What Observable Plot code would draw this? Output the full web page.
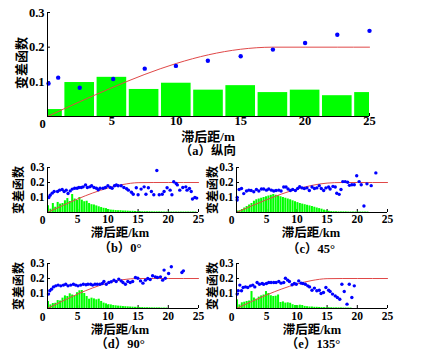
<!DOCTYPE html>
<html><head><meta charset="utf-8">
<script src="https://cdn.jsdelivr.net/npm/d3@7"></script>
<script src="https://cdn.jsdelivr.net/npm/@observablehq/plot@0.6"></script>
<style>
body{margin:0;background:#fff;}
#root{position:relative;width:428px;height:354px;background:#fff;overflow:hidden;}
.pane{position:absolute;}
.lbl{position:absolute;white-space:nowrap;color:#000;font-family:'Liberation Serif','Noto Sans CJK SC',serif;font-weight:bold;transform:translate(-50%,-50%);line-height:1;}
.ylbl{transform:translate(-50%,-50%) rotate(-90deg);}
</style></head>
<body><div id="root"></div>
<script>
// ---------- data ----------
const xTicks = [0, 5, 10, 15, 20, 25];
const yTicks = [0.1, 0.2, 0.3];
const curveLag = [0, 2.5, 5, 7.5, 10, 12.5, 15, 17.5, 20, 22.5, 25];

// (a) 纵向
const barLagA = [0, 2.5, 5, 7.5, 10, 12.5, 15, 17.5, 20, 22.5, 25];
const barA = [0.02, 0.098, 0.113, 0.078, 0.096, 0.076, 0.089, 0.069, 0.076, 0.060, 0.069];
const dotLagA = [0.08, 0.83, 2.5, 5.1, 7.55, 9.97, 12.45, 15.0, 17.5, 20.0, 22.5, 25.0];
const dotA = [0.095, 0.112, 0.083, 0.108, 0.138, 0.146, 0.161, 0.174, 0.193, 0.212, 0.236, 0.247];
const curveA = [0, 0.0426, 0.083, 0.1207, 0.153, 0.178, 0.194, 0.2, 0.2, 0.2, 0.2];

// bin width of the small histograms (km)
const binWidthKm = 0.4;

// (b) 0°
const barB = [0.045,0.022,0.06,0.035,0.067,0.056,0.06,0.078,0.093,0.073,0.12,0.09,0.08,0.10,0.082,0.072,0.075,0.06,0.052,0.05,0.044,0.038,0.033,0.028,0.026,0.02,0.016,0.015,0.013,0.012,0.012,0.01,0.01,0.009,0.008,0.008,0.007,0.006,0.006,0.005,0.005,0.005,0.005,0.004,0.004,0.004,0.004,0.004,0.003,0.003,0.003,0.003,0.003,0.003,0.003,0.003,0.003,0.003,0.003,0.003,0.003,0.003];
const dotLagB = [0.22,0.44,0.77,1.1,1.66,2.0,2.43,2.76,3.1,3.4,3.76,4.1,4.5,4.9,5.2,5.6,5.9,6.3,6.6,7.0,7.3,7.7,8.1,8.4,8.7,9.2,9.6,10.0,10.4,10.7,11.1,11.4,11.7,12.2,12.65,13.1,13.4,13.9,14.2,14.7,15.0,15.5,16.0,16.3,16.7,17.2,17.6,18.1,18.5,19.0,19.3,19.8,20.3,20.6,20.9,21.3,21.5,21.9,22.4,22.9,23.1,23.5,23.8,24.0,24.4,24.7];
const dotB = [0.10,0.115,0.129,0.14,0.14,0.149,0.153,0.14,0.149,0.127,0.144,0.156,0.162,0.162,0.167,0.167,0.171,0.184,0.167,0.171,0.178,0.167,0.162,0.151,0.162,0.162,0.167,0.178,0.167,0.162,0.178,0.184,0.178,0.178,0.167,0.158,0.149,0.135,0.122,0.165,0.118,0.156,0.171,0.122,0.165,0.14,0.118,0.28,0.118,0.122,0.14,0.165,0.149,0.118,0.205,0.193,0.184,0.149,0.167,0.171,0.149,0.16,0.14,0.09,0.1,0.096];
const curveB = [0, 0.0465, 0.0906, 0.1303, 0.163, 0.1867, 0.1989, 0.2, 0.2, 0.2, 0.2];

// (c) 45°
const barC = [0.01,0.012,0.02,0.03,0.04,0.05,0.06,0.075,0.085,0.09,0.095,0.1,0.105,0.11,0.115,0.12,0.115,0.112,0.105,0.1,0.095,0.09,0.085,0.078,0.072,0.066,0.06,0.056,0.052,0.048,0.044,0.04,0.035,0.03,0.026,0.022,0.016,0.012,0.008,0.006,0.005,0.005,0.004,0.004,0.004,0.004,0.003,0.003,0.003,0.003,0.003,0.003,0.003,0.003,0.003];
const dotLagC = [0.11,0.11,0.44,0.83,1.2,1.65,2.04,2.42,2.86,3.3,3.7,4.13,4.5,4.96,5.34,5.78,6.17,6.55,7.0,7.38,7.82,8.2,8.54,8.92,9.3,9.75,10.13,10.46,10.85,11.23,11.67,12.06,12.5,12.9,13.3,13.7,14.04,14.43,14.8,15.25,15.5,15.97,16.35,16.6,17.0,17.3,17.6,18.0,18.4,18.7,19.1,19.5,19.9,20.3,20.65,21.1,21.6,22.3,23.07];
const dotC = [0.10,0.083,0.153,0.16,0.126,0.143,0.149,0.147,0.138,0.153,0.143,0.157,0.157,0.149,0.157,0.149,0.143,0.147,0.149,0.143,0.17,0.17,0.157,0.147,0.153,0.147,0.16,0.172,0.164,0.16,0.164,0.147,0.17,0.16,0.164,0.179,0.16,0.147,0.164,0.17,0.157,0.174,0.17,0.128,0.121,0.153,0.206,0.206,0.202,0.181,0.185,0.185,0.245,0.206,0.185,0.043,0.191,0.179,0.264];
const curveC = [0, 0.0438, 0.0856, 0.1237, 0.156, 0.1808, 0.196, 0.2, 0.2, 0.2, 0.2];

// (d) 90°
const barD = [0.047,0.024,0.033,0.035,0.053,0.05,0.069,0.084,0.08,0.098,0.09,0.085,0.105,0.118,0.12,0.1,0.08,0.062,0.069,0.064,0.058,0.062,0.047,0.036,0.031,0.026,0.024,0.02,0.018,0.016,0.015,0.013,0.012,0.011,0.01,0.009,0.008,0.008,0.006,0.006,0.005,0.005,0.005,0.004,0.004,0.004,0.004,0.003,0.003,0.003];
const dotLagD = [0.16,0.38,0.66,0.99,1.37,1.76,2.2,2.64,3.02,3.4,3.85,4.29,4.67,5.05,5.5,5.93,6.37,6.7,7.14,7.47,7.86,8.24,8.68,9.07,9.34,9.73,10.16,10.55,11.0,11.37,11.8,12.2,12.5,12.9,13.3,13.7,14.1,14.56,14.95,15.4,15.8,16.2,16.6,17.0,17.4,17.86,18.2,18.7,19.07,19.5,19.3,20.05,20.5,22.25,22.5];
const dotD = [0.096,0.118,0.129,0.144,0.151,0.156,0.151,0.156,0.162,0.151,0.156,0.162,0.156,0.151,0.156,0.162,0.158,0.162,0.162,0.156,0.162,0.162,0.162,0.167,0.18,0.162,0.173,0.178,0.189,0.18,0.196,0.184,0.173,0.162,0.18,0.173,0.18,0.207,0.202,0.184,0.169,0.189,0.2,0.193,0.218,0.211,0.207,0.211,0.189,0.202,0.256,0.233,0.278,0.24,0.251];
const curveD = [0, 0.0495, 0.0963, 0.1375, 0.1704, 0.1921, 0.2, 0.2, 0.2, 0.2, 0.2];

// (e) 135°
const barE = [0.058,0.024,0.038,0.042,0.047,0.05,0.113,0.07,0.062,0.076,0.084,0.09,0.113,0.1,0.085,0.08,0.082,0.09,0.04,0.044,0.036,0.038,0.035,0.025,0.02,0.018,0.022,0.02,0.014,0.012,0.01,0.01,0.008,0.008,0.007,0.006,0.006,0.005,0.005,0.005,0.004,0.004,0.004,0.004,0.003,0.003,0.003,0.003];
const dotLagE = [0.11,0.28,0.55,0.83,1.1,1.49,1.87,2.31,2.7,3.03,3.41,3.8,4.24,4.5,4.96,5.34,5.73,6.17,6.55,7.0,7.38,7.82,8.1,8.48,8.76,9.2,9.58,9.9,10.3,10.7,11.0,11.4,11.8,12.1,12.5,12.9,13.3,13.7,14.0,14.4,14.8,15.25,15.5,15.9,16.35,16.7,17.1,17.45,17.84,18.3,18.67,19.1,19.5];
const dotE = [0.096,0.118,0.156,0.118,0.14,0.144,0.14,0.151,0.156,0.144,0.173,0.162,0.167,0.162,0.167,0.173,0.173,0.173,0.173,0.18,0.169,0.173,0.202,0.189,0.18,0.158,0.167,0.162,0.184,0.169,0.167,0.162,0.151,0.144,0.122,0.136,0.118,0.122,0.1,0.107,0.14,0.122,0.113,0.096,0.084,0.073,0.062,0.162,0.113,0.029,0.162,0.073,0.151];
const curveE = [0, 0.0465, 0.0906, 0.1303, 0.163, 0.1867, 0.1989, 0.2, 0.2, 0.2, 0.2];

// ---------- drawing ----------
const root = document.getElementById("root");
const serif = "'Liberation Serif','Noto Sans CJK SC',serif";

function addLabel(text, cx, cy, size, rotate) {
  const d = document.createElement("div");
  d.className = "lbl" + (rotate ? " ylbl" : "");
  d.textContent = text;
  d.style.left = cx + "px";
  d.style.top = cy + "px";
  d.style.fontSize = size + "px";
  root.appendChild(d);
}

function panel(o) {
  const barRows = o.bars.map((h, i) => o.barLag
    ? {x1: o.barLag[i] - o.halfW, x2: o.barLag[i] + o.halfW, h}
    : {x1: i * binWidthKm, x2: (i + 1) * binWidthKm, h});
  const dotRows = o.dotLag.map((x, i) => ({x, y: o.dots[i]}));
  const curveRows = curveLag.map((x, i) => ({x, y: o.curve[i]}));
  const svg = Plot.plot({
    width: o.width, height: o.height,
    marginLeft: o.ml, marginRight: o.mr, marginTop: o.mt, marginBottom: o.mb,
    style: {fontFamily: serif, fontSize: o.fs + "px", fontWeight: "bold", color: "#000", background: "transparent", overflow: "visible"},
    x: {domain: [0, 25], ticks: xTicks, tickFormat: d => d === 0 ? "" : String(d), tickSize: -3, tickPadding: o.xpad, label: null},
    y: {domain: [0, 0.3], ticks: yTicks, tickFormat: d => d.toFixed(1), tickSize: -3, tickPadding: 6, label: null},
    marks: [
      Plot.rectY(barRows, {x1: "x1", x2: "x2", y1: 0, y2: "h", fill: "#00ff00", insetRight: o.inset, clip: true}),
      Plot.line(curveRows, {x: "x", y: "y", stroke: "#e04848", strokeWidth: 1, curve: "monotone-x"}),
      Plot.dot(dotRows, {x: "x", y: "y", r: o.r, fill: "#0000ff", stroke: "none"}),
      Plot.ruleX([0], {stroke: "#000"}),
      Plot.ruleY([0], {stroke: "#000"}),
      Plot.text([0], {x: d => d, y: d => d, text: d => String(d), dx: -5, dy: o.zeroDy, fill: "#000"})
    ]
  });
  const wrap = document.createElement("div");
  wrap.className = "pane";
  wrap.style.left = o.left + "px";
  wrap.style.top = o.top + "px";
  wrap.style.width = o.width + "px";
  wrap.appendChild(svg);
  root.appendChild(wrap);
}

panel({left: 0, top: 0, width: 428, height: 132, ml: 47, mr: 59, mt: 12, mb: 16, fs: 12.5, xpad: 3, zeroDy: 7, r: 2.2, inset: 0,
  bars: barA, barLag: barLagA, halfW: 1.15, dotLag: dotLagA, dots: dotA, curve: curveA});
panel({left: 0, top: 155, width: 214, height: 72, ml: 47, mr: 16, mt: 12, mb: 15, fs: 11.5, xpad: 5, zeroDy: 8, r: 1.7, inset: 0.4,
  bars: barB, dotLag: dotLagB, dots: dotB, curve: curveB});
panel({left: 214, top: 155, width: 214, height: 72, ml: 22, mr: 41, mt: 12, mb: 15, fs: 11.5, xpad: 5, zeroDy: 8, r: 1.7, inset: 0.4,
  bars: barC, dotLag: dotLagC, dots: dotC, curve: curveC});
panel({left: 0, top: 251, width: 214, height: 72, ml: 47, mr: 16, mt: 12, mb: 15, fs: 11.5, xpad: 6, zeroDy: 9, r: 1.7, inset: 0.4,
  bars: barD, dotLag: dotLagD, dots: dotD, curve: curveD});
panel({left: 214, top: 251, width: 214, height: 72, ml: 22, mr: 41, mt: 12, mb: 15, fs: 11.5, xpad: 6, zeroDy: 9, r: 1.7, inset: 0.4,
  bars: barE, dotLag: dotLagE, dots: dotE, curve: curveE});

// axis titles and captions
addLabel("变差函数", 21, 63, 13, true);
addLabel("滞后距/m", 208, 136, 13);
addLabel("（a）纵向", 208, 151, 12.5);

addLabel("变差函数", 19, 190, 12, true);
addLabel("滞后距/km", 120, 233, 12.5);
addLabel("（b）0°", 120, 248, 12.5);

addLabel("变差函数", 213, 190, 12, true);
addLabel("滞后距/km", 311, 233, 12.5);
addLabel("（c）45°", 311, 249, 12.5);

addLabel("变差函数", 19, 286, 12, true);
addLabel("滞后距/km", 120, 330, 12.5);
addLabel("（d）90°", 120, 344, 12.5);

addLabel("变差函数", 213, 286, 12, true);
addLabel("滞后距/km", 312, 330, 12.5);
addLabel("（e）135°", 313, 344, 12.5);
</script>
</body></html>
